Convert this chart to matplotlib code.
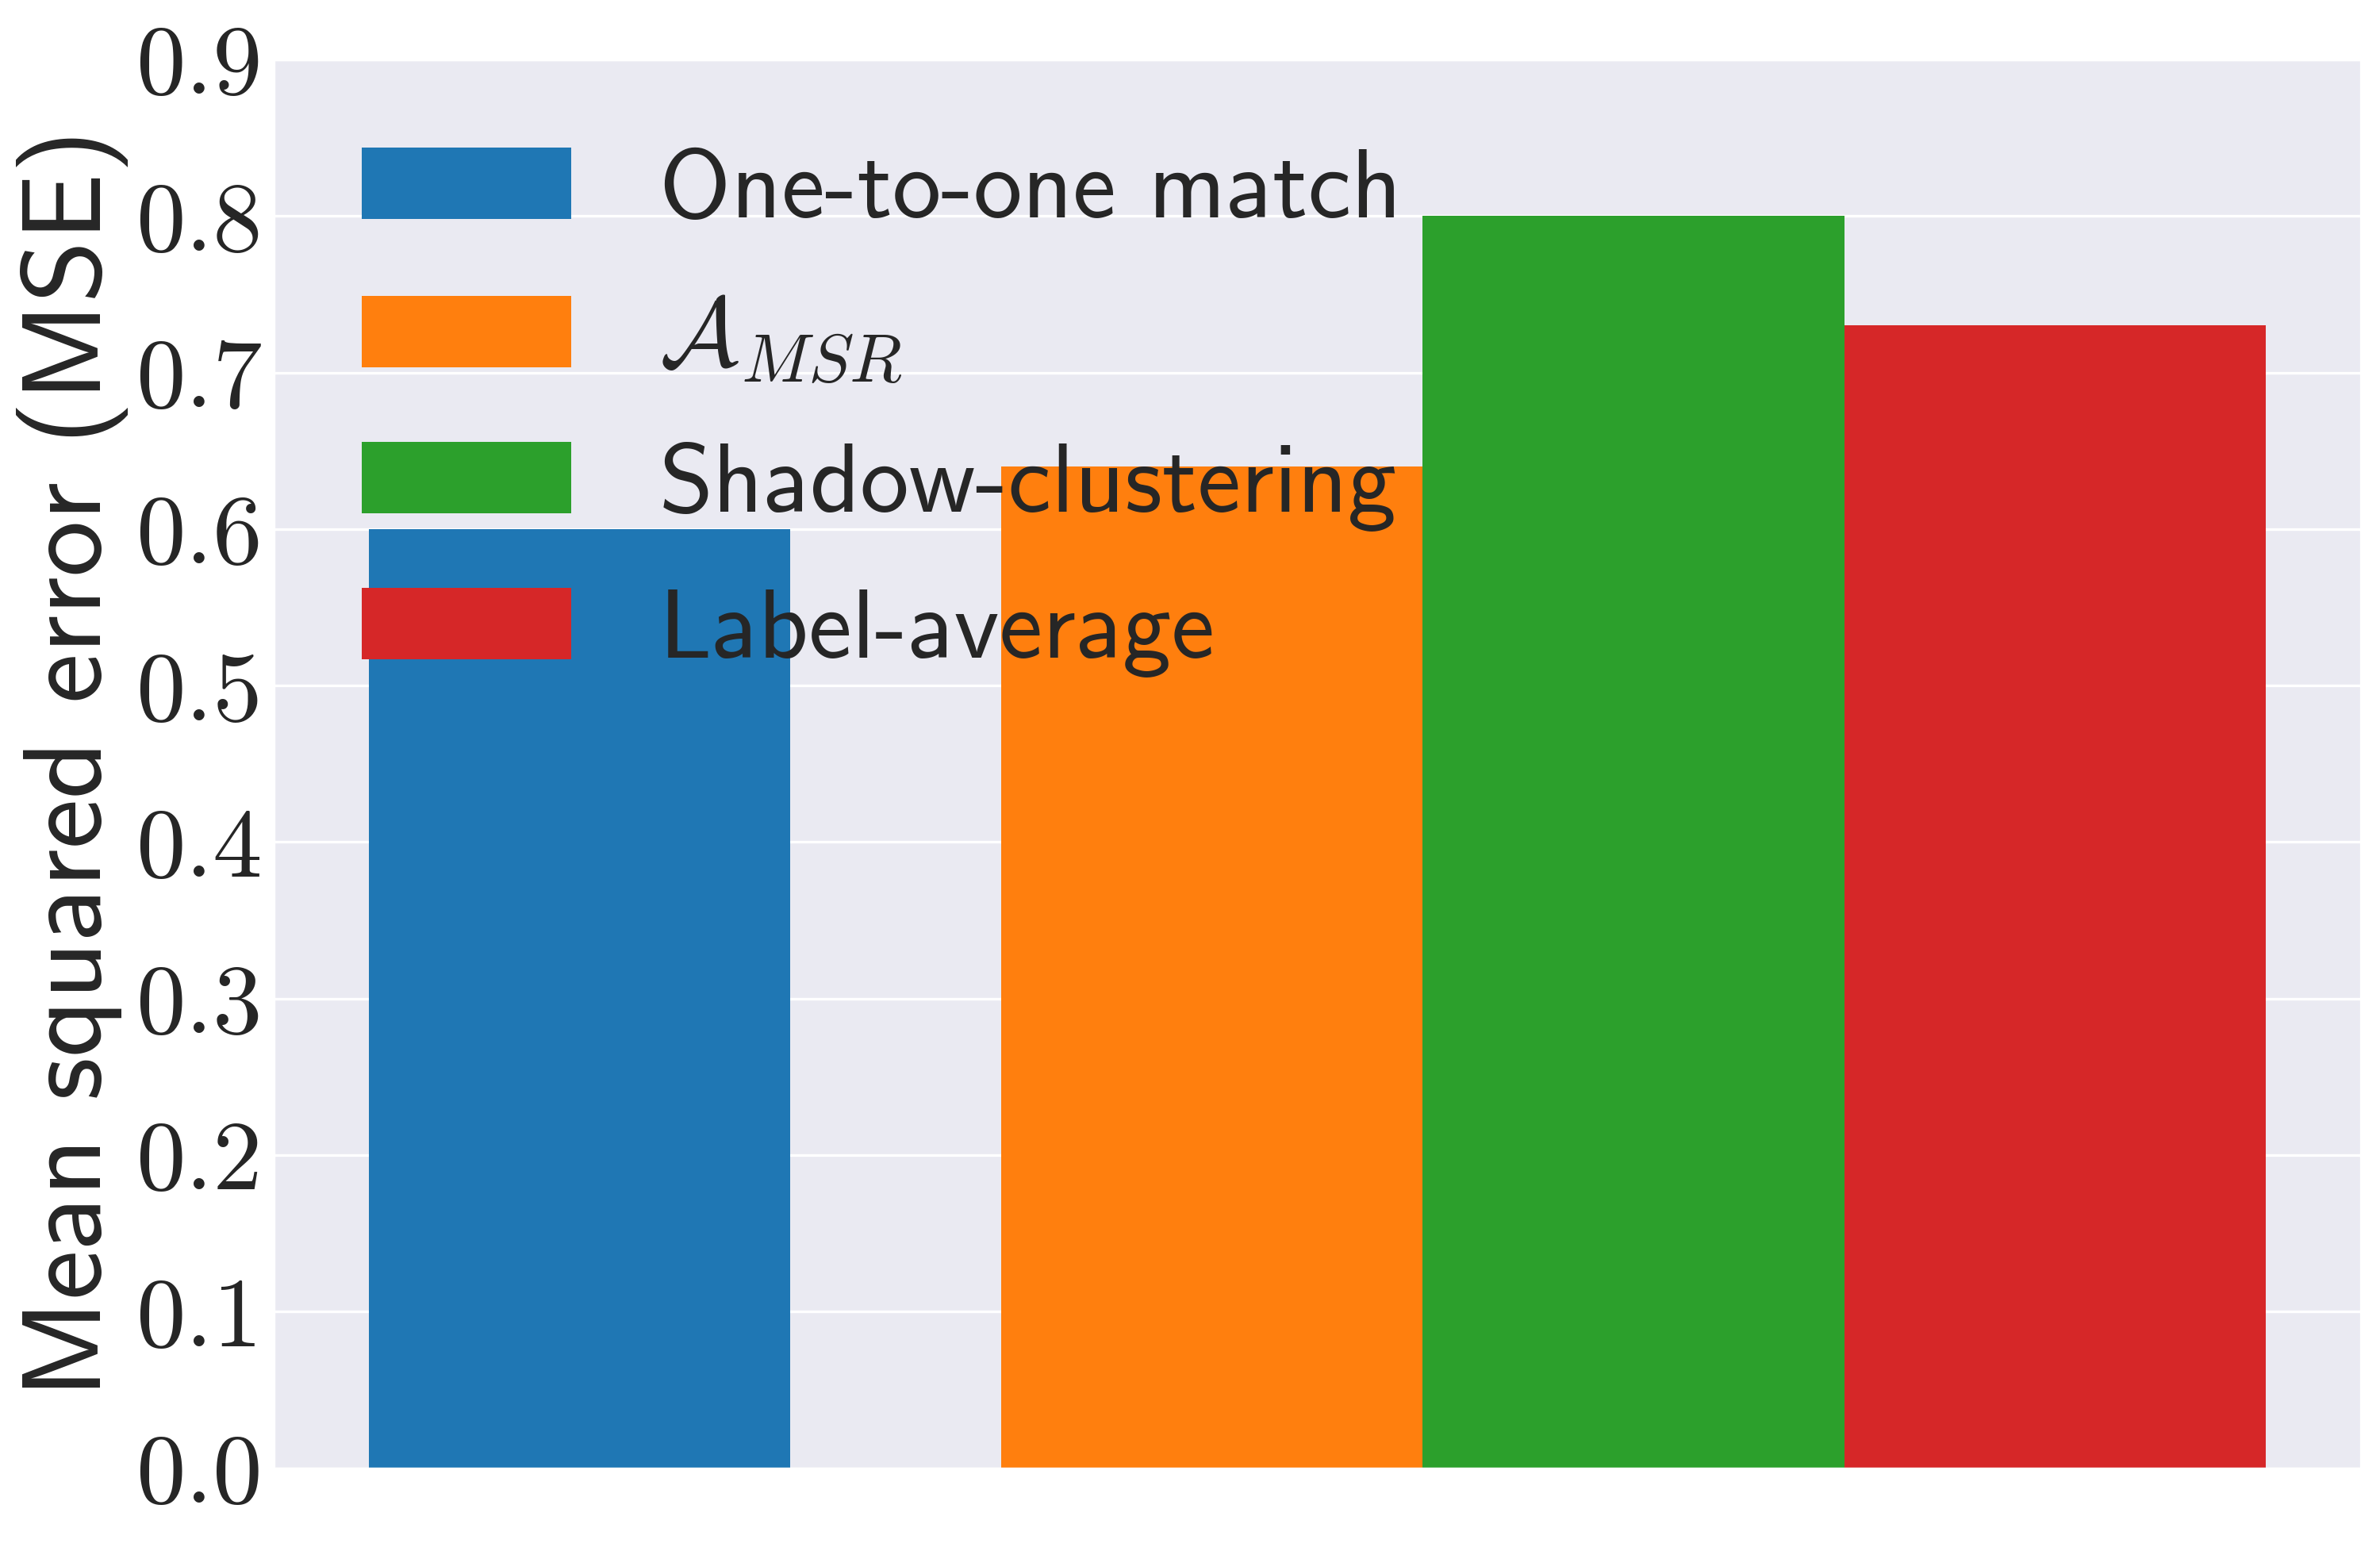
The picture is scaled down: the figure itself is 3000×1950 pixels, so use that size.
import numpy as np
import matplotlib
matplotlib.use('Agg')
import matplotlib.pyplot as plt
import seaborn as sns
from matplotlib.ticker import FuncFormatter
from matplotlib.font_manager import FontProperties

methods = ['One-to-one match', r'$\mathcal{A}_{MSR}$', 'Shadow-clustering', 'Label-average']
mse = [0.60, 0.64, 0.80, 0.73]
colors = ['#1f77b4', '#ff7f0e', '#2ca02c', '#d62728']
yticks = [0.0, 0.1, 0.2, 0.3, 0.4, 0.5, 0.6, 0.7, 0.8, 0.9]


def main():
    sns.set_style('darkgrid')
    plt.rcParams['mathtext.fontset'] = 'cm'

    fig = plt.figure(figsize=(10, 6.5), dpi=300)
    ax = fig.add_subplot(111)
    fig.subplots_adjust(left=0.115, right=0.992, bottom=0.051, top=0.9615)

    # baseline bar on its own, the other three side by side
    xs = [0.0] + [1.5 + i for i in range(len(mse) - 1)]
    for x, v, c, lab in zip(xs, mse, colors, methods):
        ax.bar(x, v, width=1.0, color=c, label=lab, linewidth=0)

    ax.set_ylim(0, 0.9)
    ax.set_yticks(yticks)
    ax.yaxis.set_major_formatter(FuncFormatter(lambda v, p: '%.1f' % v))
    ax.tick_params(axis='y', labelsize=30, pad=0)
    for t in ax.get_yticklabels():
        t.set_family('cmr10')
    ax.set_xticks([])
    ax.set_ylabel('Mean squared error (MSE)', fontsize=34, family='cmss10',
                  labelpad=2)

    ax.legend(loc='upper left', frameon=False, handlelength=2.15,
              handleheight=0.75, handletextpad=0.9, labelspacing=0.58,
              prop=FontProperties(family='cmss10', size=29.5))

    plt.savefig('out.png', dpi=300)


if __name__ == '__main__':
    main()
